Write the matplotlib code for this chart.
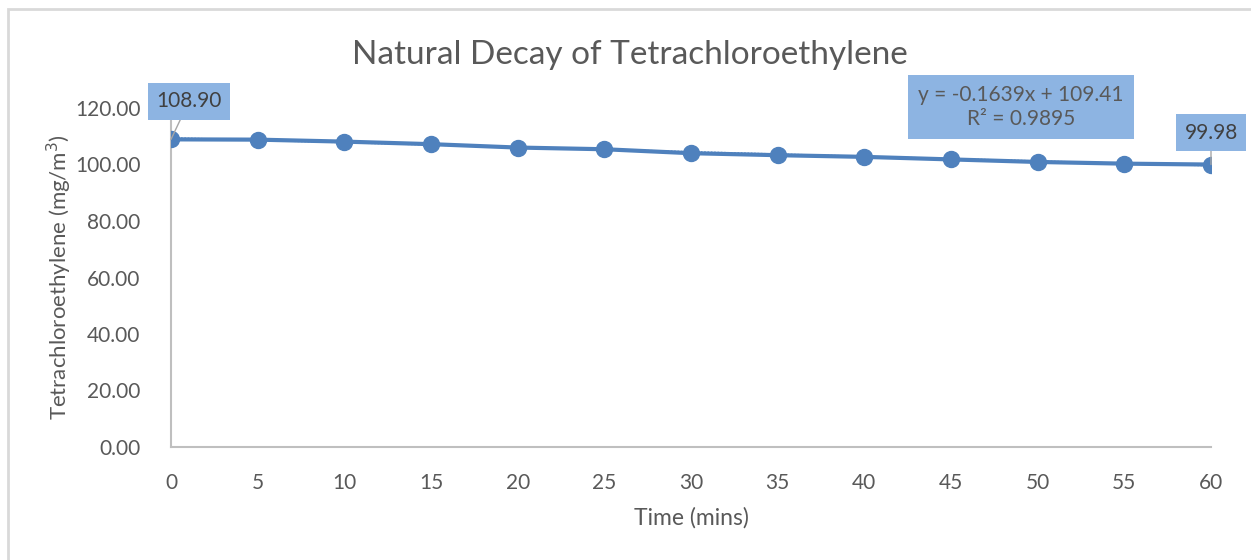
import numpy as np
import matplotlib
matplotlib.use("Agg")
import matplotlib.pyplot as plt
from matplotlib.patches import Rectangle

plt.rcParams["font.family"] = ["Lato", "DejaVu Sans"]

# data
time_mins = [0, 5, 10, 15, 20, 25, 30, 35, 40, 45, 50, 55, 60]
conc = [108.90, 108.80, 108.10, 107.20, 106.00, 105.40, 104.00,
        103.30, 102.70, 101.80, 100.90, 100.30, 99.98]
slope, intercept, r2 = -0.1639, 109.41, 0.9895

LINE = "#4F81BD"
BOX = "#8DB4E2"
TXT = "#595959"
AXIS = "#BFBFBF"

W, H = 1251, 560
fig = plt.figure(figsize=(W / 100, H / 100), dpi=100)
ax = fig.add_axes([171 / W, 1 - 447 / H, 1040 / W, 339 / H])

# chart area border
fig.patches.append(Rectangle((8 / W, -0.1), 1.2, 1.1 - 9 / H, transform=fig.transFigure,
                             fill=False, edgecolor="#D9D9D9", linewidth=2))

# trendline
tx = np.array([0, 60])
ax.plot(tx, slope * tx + intercept, ls=(0, (1, 1)), color=LINE, lw=1.2, zorder=2)
ax.plot(time_mins, conc, color=LINE, lw=3, marker="o", ms=11.5, zorder=3)

ax.set_xlim(0, 60)
ax.set_ylim(0, 120)
ax.set_xticks(time_mins)
ax.set_yticks(np.arange(0, 121, 20))
ax.set_yticklabels([f"{v:.2f}" for v in np.arange(0, 121, 20)])
ax.tick_params(length=0, labelsize=15, colors=TXT)
ax.tick_params(axis="y", pad=22)
ax.tick_params(axis="x", pad=19)
for s in ["top", "right"]:
    ax.spines[s].set_visible(False)
for s in ["left", "bottom"]:
    ax.spines[s].set_color(AXIS)
    ax.spines[s].set_linewidth(1.5)

ax.set_xlabel("Time (mins)", fontsize=16.5, color=TXT, labelpad=10)
ax.set_ylabel("Tetrachloroethylene (mg/m$^3$)", fontsize=16, color=TXT)
ax.yaxis.set_label_coords((74 - 171) / 1040, 0.5)
fig.text(630 / W, 1 - 55 / H, "Natural Decay of Tetrachloroethylene", ha="center",
         va="center", fontsize=24, color=TXT)

# data labels
box = dict(boxstyle="square,pad=0.4", fc=BOX, ec="none")
ax.annotate(f"{conc[0]:.2f}", (time_mins[0], conc[0]), xytext=(18, 38),
            textcoords="offset pixels", ha="center", va="center", fontsize=15,
            color="#404040", bbox=box,
            arrowprops=dict(arrowstyle="-", color="#A6A6A6", lw=1, shrinkA=0, shrinkB=0))
ax.annotate(f"{conc[-1]:.2f}", (time_mins[-1], conc[-1]), xytext=(0, 32),
            textcoords="offset pixels", ha="center", va="center", fontsize=15,
            color="#404040", bbox=box,
            arrowprops=dict(arrowstyle="-", color="#A6A6A6", lw=1, shrinkA=0, shrinkB=0))

ax.text(1021 / W, 1 - 107 / H, f"y = {slope:.4f}x + {intercept:.2f}\nR² = {r2:.4f}",
        transform=fig.transFigure, ha="center", va="center", fontsize=15,
        color=TXT, linespacing=1.2,
        bbox=dict(boxstyle="square,pad=0.5", fc=BOX, ec="none"))

fig.savefig("out.png", dpi=100)
